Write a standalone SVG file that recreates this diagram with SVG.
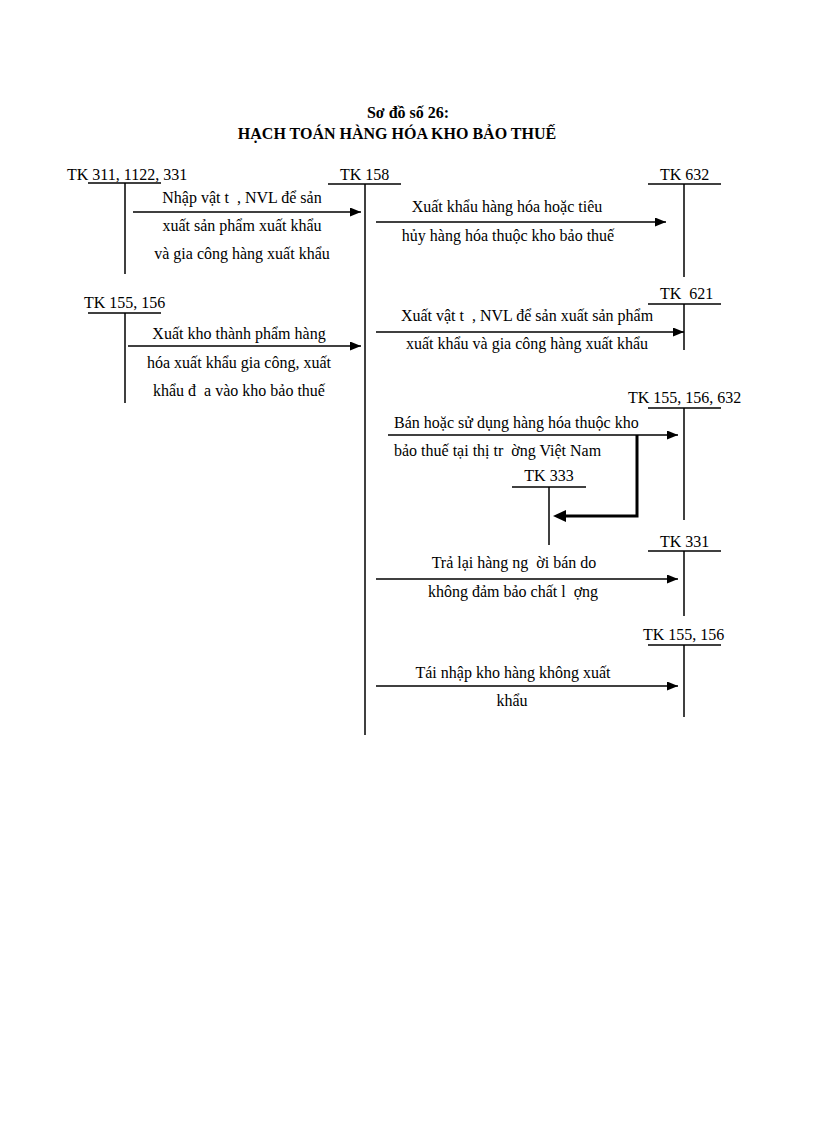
<svg xmlns="http://www.w3.org/2000/svg" width="816" height="1123" viewBox="0 0 816 1123">
<style>
text{font-family:"Liberation Serif","Times New Roman",serif;fill:#000;white-space:pre}
.t{font-size:16px;font-weight:bold;text-anchor:middle}
.tk{font-size:16px}
.lb{font-size:16px}
.m{text-anchor:middle}
.ln{stroke:#000;stroke-width:1.5;fill:none}
.ar{stroke:#000;stroke-width:1.5;fill:none;marker-end:url(#ah)}
.thick{stroke:#000;stroke-width:3;fill:none}
</style>
<defs>
<marker id="ah" markerWidth="11" markerHeight="9" refX="11" refY="4.5" orient="auto" markerUnits="userSpaceOnUse">
<path d="M0,0 L11,4.5 L0,9 Z" fill="#000"/>
</marker>
</defs>
<rect width="816" height="1123" fill="#fff"/>
<g id="title">
<text class="t" x="408" y="118">Sơ đồ số 26:</text>
<text class="t" x="397" y="139">HẠCH TOÁN HÀNG HÓA KHO BẢO THUẾ</text>
</g>
<g id="tk311">
<text class="tk" x="67" y="180">TK 311, 1122, 331</text>
<line class="ln" x1="88" y1="183" x2="161" y2="183"/>
<line class="ln" x1="125" y1="183" x2="125" y2="274"/>
</g>
<g id="tk158">
<text class="tk" x="340" y="180">TK 158</text>
<line class="ln" x1="328" y1="184" x2="401" y2="184"/>
<line class="ln" x1="365" y1="184" x2="365" y2="735"/>
</g>
<g id="tk632">
<text class="tk" x="660" y="180">TK 632</text>
<line class="ln" x1="648" y1="184" x2="721" y2="184"/>
<line class="ln" x1="684" y1="184" x2="684" y2="277"/>
</g>
<g id="tk621">
<text class="tk" x="660" y="299">TK  621</text>
<line class="ln" x1="648" y1="304" x2="721" y2="304"/>
<line class="ln" x1="684" y1="304" x2="684" y2="350"/>
</g>
<g id="tk155left">
<text class="tk" x="84" y="308">TK 155, 156</text>
<line class="ln" x1="88" y1="313" x2="161" y2="313"/>
<line class="ln" x1="125" y1="313" x2="125" y2="403"/>
</g>
<g id="tk155-632">
<text class="tk" x="628" y="403">TK 155, 156, 632</text>
<line class="ln" x1="648" y1="408" x2="721" y2="408"/>
<line class="ln" x1="684" y1="408" x2="684" y2="520"/>
</g>
<g id="tk333">
<text class="tk m" x="549" y="481">TK 333</text>
<line class="ln" x1="512" y1="487" x2="586" y2="487"/>
<line class="ln" x1="549" y1="487" x2="549" y2="545"/>
</g>
<g id="tk331">
<text class="tk" x="660" y="547">TK 331</text>
<line class="ln" x1="648" y1="551" x2="721" y2="551"/>
<line class="ln" x1="684" y1="551" x2="684" y2="616"/>
</g>
<g id="tk155right">
<text class="tk" x="643" y="640">TK 155, 156</text>
<line class="ln" x1="648" y1="645" x2="721" y2="645"/>
<line class="ln" x1="684" y1="645" x2="684" y2="717"/>
</g>
<g id="connectors">
<line class="ar" x1="133" y1="212" x2="361" y2="212"/>
<line class="ar" x1="376" y1="222" x2="666" y2="222"/>
<line class="ar" x1="376" y1="332" x2="684" y2="332"/>
<line class="ar" x1="128" y1="346" x2="361" y2="346"/>
<line class="ar" x1="388" y1="435" x2="678" y2="435"/>
<polyline class="thick" points="637,435 637,516 565,516"/>
<path d="M553,516 L566,510 L566,522 Z" fill="#000"/>
<line class="ar" x1="376" y1="579" x2="678" y2="579"/>
<line class="ar" x1="376" y1="686" x2="678" y2="686"/>
</g>
<g id="labels">
<text class="lb m" x="242" y="203">Nhập vật t  , NVL để sản</text>
<text class="lb m" x="242" y="231">xuất sản phẩm xuất khẩu</text>
<text class="lb m" x="242" y="259">và gia công hàng xuất khẩu</text>
<text class="lb m" x="507" y="212">Xuất khẩu hàng hóa hoặc tiêu</text>
<text class="lb m" x="508" y="241">hủy hàng hóa thuộc kho bảo thuế</text>
<text class="lb m" x="527" y="321">Xuất vật t  , NVL để sản xuất sản phẩm</text>
<text class="lb m" x="527" y="349">xuất khẩu và gia công hàng xuất khẩu</text>
<text class="lb m" x="239" y="339">Xuất kho thành phẩm hàng</text>
<text class="lb m" x="239" y="368">hóa xuất khẩu gia công, xuất</text>
<text class="lb m" x="239" y="396">khẩu đ  a vào kho bảo thuế</text>
<text class="lb" x="394" y="428">Bán hoặc sử dụng hàng hóa thuộc kho</text>
<text class="lb" x="394" y="456">bảo thuế tại thị tr  ờng Việt Nam</text>
<text class="lb m" x="514" y="568">Trả lại hàng ng  ời bán do</text>
<text class="lb m" x="513" y="597">không đảm bảo chất l  ợng</text>
<text class="lb m" x="513" y="678">Tái nhập kho hàng không xuất</text>
<text class="lb m" x="512" y="706">khẩu</text>
</g>
</svg>
